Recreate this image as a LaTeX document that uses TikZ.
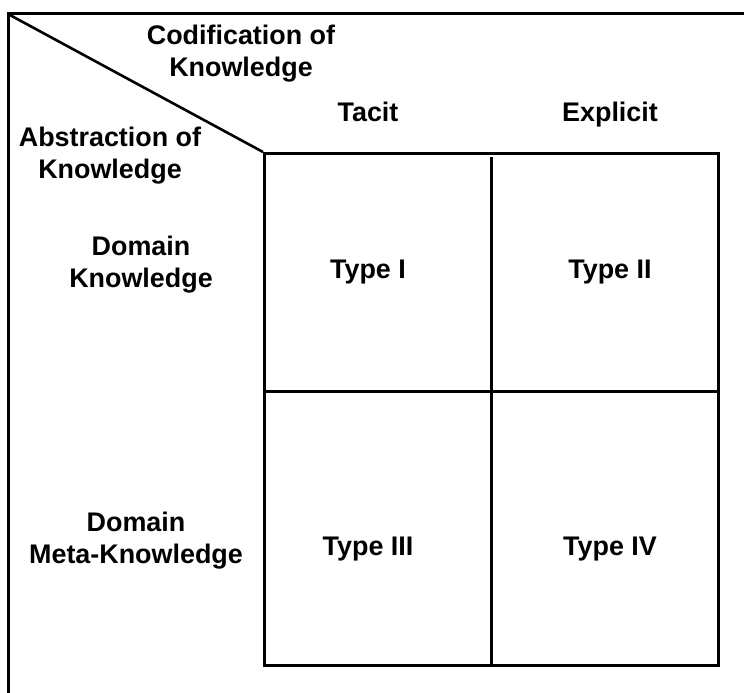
\documentclass[tikz,border=0pt]{standalone}
\usepackage{fontspec}
\setmainfont{Liberation Sans}
\begin{document}
\begin{tikzpicture}[x=1bp,y=-1bp,
  rule/.style={line width=3bp},
  lbl/.style={font=\bfseries\fontsize{27}{32}\selectfont,align=center,inner sep=0pt},
  cell/.style={lbl,anchor=base}]
\useasboundingbox (0,0) rectangle (744,693);
% outer frame: top and left sides only
\coordinate (corner) at (8,14);
\coordinate (topend) at (744,14);
\coordinate (leftend) at (8,693);
\draw[rule,line cap=butt,line join=miter] (topend) -- (corner) -- (leftend);
% the 2x2 grid
\node[draw,rule,minimum width=454bp,minimum height=512bp,inner sep=0pt,anchor=north west] (grid) at (263,152) {};
\coordinate (vtop) at (491,157);
\coordinate (vbot) at (491,664);
\coordinate (hleft) at (263,391);
\coordinate (hright) at (717,391);
\draw[rule,line cap=butt] (vtop) -- (vbot);
\draw[rule,line cap=butt] (hleft) -- (hright);
% diagonal header split
\draw[line width=2.6bp] (corner) -- (grid.north west);
% headings
\node[lbl] (codif) at (241,54) {Codification of\\Knowledge};
\node[cell] (tacit) at (368,122) {Tacit};
\node[cell] (explicit) at (610,122) {Explicit};
\node[lbl] (abstr) at (110,156) {Abstraction of\\Knowledge};
\node[lbl] (dom) at (141,265) {Domain\\Knowledge};
\node[lbl] (meta) at (136,541) {Domain\\Meta-Knowledge};
% cell labels
\node[cell] (t1) at (368,278) {Type I};
\node[cell] (t2) at (610,278) {Type II};
\node[cell] (t3) at (368,555) {Type III};
\node[cell] (t4) at (610,555) {Type IV};
\end{tikzpicture}
\end{document}
